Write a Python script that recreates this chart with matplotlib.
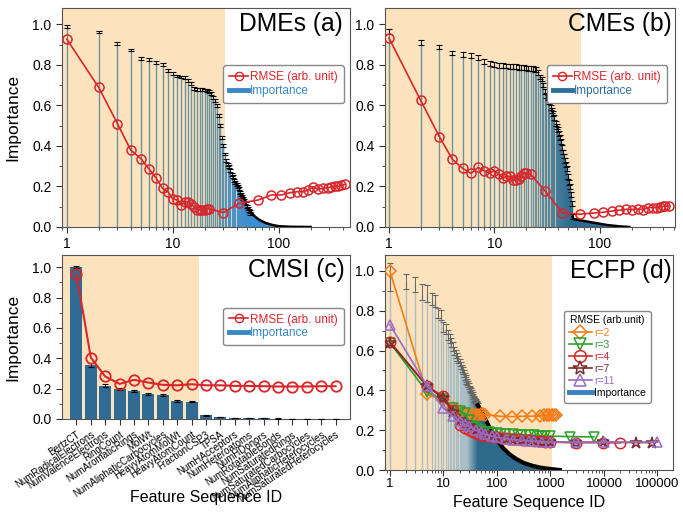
import numpy as np
import matplotlib
matplotlib.use('Agg')
import matplotlib.pyplot as plt
from matplotlib.colors import LinearSegmentedColormap
from matplotlib.lines import Line2D
from matplotlib.ticker import LogLocator, MultipleLocator, NullFormatter

plt.rcParams['font.family'] = ['Liberation Sans', 'DejaVu Sans']

RED = '#d9262b'
PEACH = '#fde3bd'

# ---------------- (a) DMEs ----------------
a_imp = [0.99, 0.962, 0.903, 0.873, 0.832, 0.828, 0.812, 0.802, 0.773, 0.757,
         0.745, 0.740, 0.737, 0.723, 0.706, 0.684, 0.680, 0.678, 0.677, 0.676,
         0.675, 0.670, 0.660, 0.640, 0.625, 0.600, 0.550, 0.500, 0.440, 0.400,
         0.360, 0.330, 0.310, 0.300, 0.280, 0.260, 0.250, 0.230, 0.220, 0.210,
         0.200, 0.190, 0.170, 0.160, 0.150, 0.140, 0.130, 0.120, 0.115, 0.100,
         0.090, 0.080, 0.075, 0.067]
a_err = 0.007
a_tail_id = [54, 60, 66, 75, 87, 100, 130, 200]
a_tail = [0.075, 0.05, 0.034, 0.02, 0.01, 0.004, 0.001, 0.0]
a_rmse_id = [1, 2, 3, 4, 5, 6, 7, 8, 9, 10, 11, 12, 13, 14, 15, 16, 17, 18, 19, 20,
             21, 22, 30, 42, 64, 85, 106, 127, 148, 169, 189, 211, 235, 262, 290,
             312, 336, 362, 390, 418]
a_rmse = [0.926, 0.688, 0.51, 0.38, 0.337, 0.284, 0.24, 0.19, 0.174, 0.138,
          0.133, 0.108, 0.125, 0.125, 0.113, 0.097, 0.084, 0.084, 0.082, 0.084,
          0.088, 0.09, 0.071, 0.117, 0.133, 0.158, 0.158, 0.169, 0.174, 0.174,
          0.182, 0.199, 0.186, 0.19, 0.194, 0.197, 0.2, 0.2, 0.207, 0.21]

# ---------------- (b) CMEs ----------------
b_imp = [0.965, 0.91, 0.888, 0.858, 0.85, 0.845, 0.838, 0.815, 0.806, 0.80,
         0.797, 0.795, 0.794, 0.793, 0.792, 0.79, 0.788, 0.787, 0.785, 0.784,
         0.783, 0.782, 0.78, 0.778, 0.775, 0.76, 0.74, 0.73, 0.70, 0.67,
         0.65, 0.64, 0.62, 0.59, 0.575, 0.56, 0.54, 0.51, 0.495, 0.48,
         0.46, 0.44, 0.42, 0.39, 0.37, 0.35, 0.33, 0.31, 0.29, 0.25,
         0.22, 0.20, 0.16, 0.116, 0.05]
b_err = 0.012
b_tail_id = [55, 56, 70, 90, 116, 155, 190]
b_tail = [0.05, 0.04, 0.03, 0.02, 0.01, 0.003, 0.0]
b_rmse_id = [1, 2, 3, 4, 5, 6, 7, 8, 9, 10, 11, 12, 13, 14, 15, 16, 17, 18, 19, 20,
             22, 30, 44, 65, 87, 108, 131, 153, 178, 202, 228, 258, 285, 317, 350,
             370, 397, 418, 450]
b_rmse = [0.932, 0.624, 0.446, 0.333, 0.289, 0.264, 0.294, 0.277, 0.267, 0.277,
          0.26, 0.24, 0.25, 0.25, 0.234, 0.231, 0.239, 0.25, 0.264, 0.267,
          0.26, 0.18, 0.07, 0.063, 0.069, 0.073, 0.079, 0.083, 0.087, 0.086,
          0.089, 0.086, 0.096, 0.096, 0.096, 0.099, 0.102, 0.102, 0.105]

# ---------------- (c) CMSI ----------------
c_names = ['BertzCT', 'NumRadicalElectrons', 'NumValenceElectrons', 'RingCount',
           'NumAromaticRings', 'MolWt', 'NumAliphaticCarbocycles', 'HeavyAtomMolWt',
           'HeavyAtomCount', 'FractionCSP3', 'TPSA', 'NumHAcceptors',
           'NumHeteroatoms', 'NumHDonors', 'NumRotatableBonds', 'NumSaturatedRings',
           'NumSaturatedCarbocycles', 'NumAliphaticHeterocycles',
           'NumSaturatedHeterocycles']
c_imp = [1.0, 0.355, 0.22, 0.196, 0.183, 0.165, 0.16, 0.12, 0.113, 0.025, 0.013,
         0.006, 0.005, 0.005, 0.003, 0.002, 0.001, 0.001, 0.0005]
c_err = [0.006, 0.012, 0.008, 0.006, 0.008, 0.006, 0.007, 0.005, 0.004, 0.003,
         0.002, 0.001, 0.001, 0.001, 0.001, 0.001, 0.0, 0.0, 0.0]
c_rmse = [0.956, 0.405, 0.28, 0.231, 0.258, 0.24, 0.225, 0.222, 0.229, 0.222,
          0.222, 0.218, 0.218, 0.216, 0.214, 0.214, 0.214, 0.216, 0.216]

# ---------------- (d) ECFP ----------------
d_imp = [0.97, 0.946, 0.93, 0.894, 0.888, 0.858, 0.85, 0.787, 0.778, 0.72,
         0.71, 0.677, 0.66, 0.64, 0.62, 0.60, 0.585, 0.57, 0.555, 0.54,
         0.525, 0.51, 0.50, 0.485, 0.47, 0.46, 0.45, 0.44, 0.43, 0.42,
         0.41, 0.405, 0.40, 0.39, 0.38, 0.37, 0.36, 0.355, 0.35, 0.345,
         0.34, 0.335, 0.33, 0.325]
d_err = [0.07, 0.038, 0.038, 0.04, 0.042, 0.03, 0.03, 0.025, 0.025, 0.025,
         0.025, 0.025, 0.022, 0.022, 0.022, 0.02, 0.02, 0.02, 0.02, 0.02,
         0.018, 0.018, 0.018, 0.018, 0.016, 0.016, 0.016, 0.015, 0.015, 0.015,
         0.014, 0.014, 0.013, 0.013, 0.012, 0.012, 0.012, 0.011, 0.011, 0.01,
         0.01, 0.01, 0.01, 0.01]
d_tail_id = [44, 55, 65, 80, 100, 130, 170, 230, 320, 450, 640, 1000, 1500]
d_tail = [0.325, 0.28, 0.24, 0.19, 0.15, 0.11, 0.08, 0.055, 0.035, 0.022, 0.012,
          0.005, 0.0]

d_r2_id = [1, 5, 10, 15, 20, 25, 30, 35, 40, 45, 50, 55, 60, 114, 190, 300, 450,
           640, 750, 850, 950, 1050, 1150, 1250]
d_r2 = [1.0, 0.38, 0.35, 0.31, 0.295, 0.285, 0.28, 0.28, 0.278, 0.278, 0.28, 0.28,
        0.278, 0.27, 0.268, 0.27, 0.27, 0.272, 0.274, 0.275, 0.276, 0.277, 0.278,
        0.278]
d_r3_id = [1, 5, 10, 15, 20, 25, 30, 35, 40, 45, 50, 60, 70, 80, 100, 120, 150, 200,
           250, 300, 400, 500, 600, 700, 800, 1000, 2300, 6500]
d_r3 = [0.64, 0.39, 0.355, 0.31, 0.295, 0.285, 0.25, 0.22, 0.21, 0.2, 0.195, 0.19,
        0.19, 0.188, 0.185, 0.183, 0.181, 0.18, 0.178, 0.177, 0.175, 0.174, 0.173,
        0.172, 0.171, 0.17, 0.168, 0.166]
d_r4_id = [1, 5, 10, 15, 20, 25, 30, 35, 40, 45, 50, 60, 70, 80, 100, 120, 150, 200,
           250, 300, 400, 500, 600, 700, 800, 1000, 3000, 9500, 20000]
d_r4 = [0.645, 0.42, 0.37, 0.3, 0.225, 0.21, 0.2, 0.19, 0.185, 0.18, 0.175, 0.172,
        0.17, 0.168, 0.165, 0.163, 0.16, 0.157, 0.155, 0.152, 0.15, 0.148, 0.146,
        0.145, 0.143, 0.14, 0.138, 0.138, 0.137]
d_r7_id = [1, 5, 10, 15, 20, 25, 30, 40, 50, 60, 80, 100, 150, 200, 300, 400, 500,
           700, 1000, 3000, 9500, 40000, 78000]
d_r7 = [0.64, 0.42, 0.36, 0.29, 0.25, 0.235, 0.22, 0.2, 0.185, 0.18, 0.17, 0.165,
        0.158, 0.153, 0.15, 0.147, 0.145, 0.143, 0.14, 0.138, 0.139, 0.138, 0.138]
d_r11_id = [1, 5, 10, 15, 20, 25, 30, 40, 50, 60, 80, 100, 150, 200, 300, 400, 500,
            700, 1000, 3000, 10000, 100000]
d_r11 = [0.73, 0.42, 0.31, 0.27, 0.245, 0.23, 0.22, 0.2, 0.19, 0.18, 0.17, 0.165,
         0.158, 0.153, 0.15, 0.147, 0.145, 0.143, 0.14, 0.14, 0.14, 0.14]


fig = plt.figure(figsize=(6.83, 5.15), dpi=100)
axa = fig.add_axes([62/683, 1-227/515, 288/683, 219/515])
axb = fig.add_axes([385/683, 1-227/515, 290/683, 219/515])
axc = fig.add_axes([62/683, 1-419/515, 288/683, 164/515])
axd = fig.add_axes([385/683, 1-470/515, 288/683, 215/515])


def common(ax):
    ax.set_ylim(0, 1.08)
    ax.yaxis.set_major_locator(MultipleLocator(0.2))
    ax.yaxis.set_minor_locator(MultipleLocator(0.1))
    ax.yaxis.set_major_formatter(plt.FormatStrFormatter('%.1f'))
    ax.tick_params(which='both', direction='out', labelsize=10, color='#333')
    ax.tick_params(which='major', length=4)
    ax.tick_params(which='minor', length=2.5)
    for s in ax.spines.values():
        s.set_color('#555')
        s.set_linewidth(0.8)


def log_x(ax, lo, hi, ticks):
    ax.set_xscale('log')
    ax.set_xlim(lo, hi)
    ax.set_xticks(ticks)
    ax.set_xticklabels([str(t) for t in ticks])
    ax.xaxis.set_minor_locator(LogLocator(base=10, subs=np.arange(2, 10), numticks=20))
    ax.xaxis.set_minor_formatter(NullFormatter())


def importance(ax, vals, err, tail_id, tail, c_thin, c_dense, ecol='k', elw=0.6,
               keep=0.8, tail_lw=1.8):
    ids = np.arange(1, len(vals) + 1)
    cm = LinearSegmentedColormap.from_list('imp', [(0, c_thin), (keep, c_thin),
                                                   (1, c_dense)])
    cols = cm(np.log(ids) / np.log(len(vals)))
    ax.vlines(ids, 0, vals, colors=cols, lw=1.0, zorder=2)
    ax.fill_between(tail_id, tail, color=c_dense, lw=0, zorder=2)
    ax.errorbar(ids, vals, yerr=err, fmt='none', ecolor=ecol, elinewidth=elw,
                capsize=2, capthick=0.8, zorder=3)
    ax.plot(tail_id, tail, color='k', lw=tail_lw, zorder=3)


def legend_ri(ax, anchor, blue):
    h = [Line2D([], [], color=RED, marker='o', mfc='none', ms=6, lw=1.2),
         Line2D([], [], color=blue, lw=3.5)]
    leg = ax.legend(h, ['RMSE (arb. unit)', 'Importance'], loc='upper right',
                    bbox_to_anchor=anchor, fontsize=8.5, handlelength=1.6,
                    handletextpad=0.15, labelspacing=0.15, borderpad=0.5,
                    edgecolor='#888', fancybox=True, framealpha=1)
    leg.get_texts()[0].set_color(RED)
    leg.get_texts()[1].set_color(blue)
    leg.set_zorder(10)


# (a)
common(axa)
log_x(axa, 0.9, 470, [1, 10, 100])
axa.axvspan(0.9, 31, color=PEACH, lw=0, zorder=0)
importance(axa, a_imp, a_err, a_tail_id, a_tail, '#6a93a2', '#3a8fd6', keep=0.8)
axa.plot(a_rmse_id, a_rmse, color=RED, lw=1.2, marker='o', mfc='none', ms=6.5,
         mew=1.1, zorder=5)
axa.text(0.975, 0.98, 'DMEs (a)', transform=axa.transAxes, ha='right', va='top',
         fontsize=17.7)
legend_ri(axa, (0.998, 0.765), '#3a87c8')
axa.set_ylabel('Importance', fontsize=12.5)
axa.yaxis.set_label_coords(-0.145, 0.5)

# (b)
common(axb)
log_x(axb, 0.917, 515, [1, 10, 100])
axb.axvspan(0.917, 66, color=PEACH, lw=0, zorder=0)
importance(axb, b_imp, b_err, b_tail_id, b_tail, '#6a93a2', '#2c6b92', keep=0.8)
axb.plot(b_rmse_id, b_rmse, color=RED, lw=1.2, marker='o', mfc='none', ms=6.5,
         mew=1.1, zorder=5)
axb.text(0.99, 0.98, 'CMEs (b)', transform=axb.transAxes, ha='right', va='top',
         fontsize=17.7)
legend_ri(axb, (0.993, 0.765), '#2f6f98')

# (c)
common(axc)
cx = np.arange(1, len(c_names) + 1)
axc.set_xlim(0, 20)
axc.axvspan(0, 9.5, color=PEACH, lw=0, zorder=0)
axc.bar(cx, c_imp, width=0.82, color='#2f6b93', zorder=2)
axc.errorbar(cx, c_imp, yerr=c_err, fmt='none', ecolor='k', elinewidth=0.6,
             capsize=2.5, capthick=0.8, zorder=3)
axc.plot(cx, c_rmse, color=RED, lw=1.5, marker='o', mfc='none', ms=7.5, mew=1.3,
         zorder=5)
axc.set_xticks(cx)
axc.set_xticklabels(c_names, rotation=34, ha='right', rotation_mode='anchor',
                    fontsize=7)
axc.text(0.983, 0.98, 'CMSI (c)', transform=axc.transAxes, ha='right', va='top',
         fontsize=17.7)
legend_ri(axc, (0.998, 0.715), '#3a87c8')
axc.set_ylabel('Importance', fontsize=12.5)
axc.yaxis.set_label_coords(-0.145, 0.5)
axc.set_xlabel('Feature Sequence ID', fontsize=11.5)
axc.xaxis.set_label_coords(0.5, -0.435)

# (d)
common(axd)
log_x(axd, 0.81, 195000, [1, 10, 100, 1000, 10000, 100000])
axd.tick_params(axis='x', labelsize=9.5, pad=2)
axd.axvspan(0.81, 1070, color=PEACH, lw=0, zorder=0)
importance(axd, d_imp, d_err, d_tail_id, d_tail, '#a9bec7', '#2e6a8c',
           ecol='#666', elw=0.7, keep=0.88, tail_lw=3)
series = [(d_r2_id, d_r2, '#f07d1a', 'D', 6.5, 'r=2'),
          (d_r3_id, d_r3, '#2ca02c', 'v', 7.5, 'r=3'),
          (d_r4_id, d_r4, '#d9262b', 'o', 7.5, 'r=4'),
          (d_r7_id, d_r7, '#7b2c2c', '*', 9, 'r=7'),
          (d_r11_id, d_r11, '#9a6cc4', '^', 7.5, 'r=11')]
handles = []
for xs, ys, col, mk, ms, lab in series:
    axd.plot(xs, ys, color=col, lw=1.2, marker=mk, mfc='none', ms=ms, mew=1.1,
             zorder=5)
    handles.append(Line2D([], [], color=col, lw=1.2, marker=mk, mfc='none',
                          ms=ms + 1, mew=1.1))
handles.append(Line2D([], [], color='#3a7fc0', lw=3.5))
leg = axd.legend(handles, ['r=2', 'r=3', 'r=4', 'r=7', 'r=11', 'Importance'],
                 title='RMSE (arb.unit)', title_fontsize=7.5, loc='upper right',
                 bbox_to_anchor=(0.94, 0.765), fontsize=7.5, handlelength=2.2,
                 handletextpad=0.2, labelspacing=0.2, borderpad=0.45,
                 edgecolor='#888', fancybox=True, framealpha=1)
for t, s in zip(leg.get_texts()[:5], series):
    t.set_color(s[2])
leg.set_zorder(10)
axd.text(0.997, 0.98, 'ECFP (d)', transform=axd.transAxes, ha='right', va='top',
         fontsize=17.7)
axd.set_xlabel('Feature Sequence ID', fontsize=11.5)
axd.xaxis.set_label_coords(0.5, -0.115)

fig.savefig('out.png', dpi=100)
